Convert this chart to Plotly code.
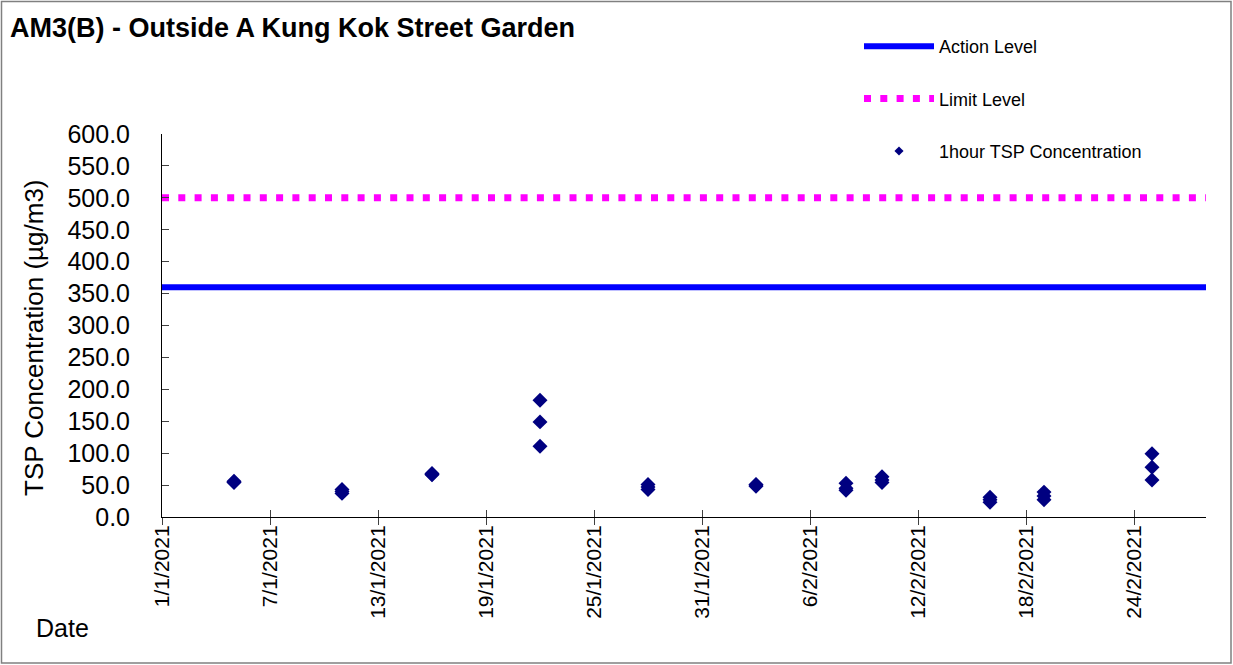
import plotly.graph_objects as go

# ---- data ----
sample_dates = [
    "2021-01-05", "2021-01-05", "2021-01-05",
    "2021-01-11", "2021-01-11", "2021-01-11",
    "2021-01-16", "2021-01-16", "2021-01-16",
    "2021-01-22", "2021-01-22", "2021-01-22",
    "2021-01-28", "2021-01-28", "2021-01-28",
    "2021-02-03", "2021-02-03", "2021-02-03",
    "2021-02-08", "2021-02-08", "2021-02-08",
    "2021-02-10", "2021-02-10", "2021-02-10",
    "2021-02-16", "2021-02-16", "2021-02-16",
    "2021-02-19", "2021-02-19", "2021-02-19",
    "2021-02-25", "2021-02-25", "2021-02-25",
]
tsp_values = [
    56, 55, 54,
    43, 40, 37,
    68, 67, 66,
    183, 149, 111,
    51, 47, 43,
    51, 50, 48,
    53, 45, 42,
    63, 58, 54,
    31, 27, 23,
    39, 33, 27,
    99, 78, 58,
]
period = ["2021-01-01", "2021-02-28"]
action_level = [360, 360]
limit_level = [500, 500]
tick_start = "2021-01-01"
tick_step_days = 6

# ---- geometry ----
W, H = 1233, 665
ML, MR, MT, MB = 162, 27, 134, 148
PW, PH = W - ML - MR, H - MT - MB


def px(xp):
    return (xp - ML) / PW


def py(yp):
    return (H - MB - yp) / PH


FONT = "Liberation Sans, Arial, sans-serif"
NAVY = "#000080"

fig = go.Figure()

fig.add_trace(go.Scatter(
    x=period, y=action_level, mode="lines", name="Action Level",
    line=dict(color="#0000FF", width=6), xaxis="x2", legendgroup="a",
))
fig.add_trace(go.Scatter(
    x=period, y=limit_level, mode="lines", name="Limit Level",
    line=dict(color="#FF00FF", width=7, dash="7px,9.3px"), legendgroup="b",
))
fig.add_trace(go.Scatter(
    x=sample_dates, y=tsp_values, mode="markers", name="1hour TSP Concentration",
    marker=dict(symbol="diamond", size=11.5, color=NAVY), showlegend=False,
))
fig.add_trace(go.Scatter(
    x=[None], y=[None], mode="markers", name="1hour TSP Concentration",
    marker=dict(symbol="diamond", size=7, color=NAVY), legendgroup="c",
))

xcommon = dict(
    type="date", range=period, tick0=tick_start, dtick=tick_step_days * 86400000,
    showgrid=False, zeroline=False,
)
fig.update_layout(
    width=W, height=H,
    margin=dict(l=ML, r=MR, t=MT, b=MB, autoexpand=False),
    paper_bgcolor="white", plot_bgcolor="white",
    font=dict(family=FONT, color="black"),
    title=dict(
        text="<b>AM3(B) - Outside A Kung Kok Street Garden</b>",
        font=dict(size=27, family=FONT, color="black"),
        xref="container", yref="container", x=10 / W, xanchor="left",
        y=1 - 28 / H, yanchor="middle",
    ),
    xaxis=dict(
        **xcommon, tickformat="%-d/%-m/%Y", tickangle=-90,
        ticks="outside", ticklen=7, tickcolor="#404040",
        showline=True, linecolor="black", linewidth=1,
        tickfont=dict(size=21, family=FONT, color="black"),
        ticklabelstandoff=-8,
    ),
    xaxis2=dict(
        **xcommon, overlaying="x", anchor="y", side="bottom",
        ticks="inside", ticklen=7, tickcolor="#404040",
        showticklabels=False, showline=False,
    ),
    yaxis=dict(
        range=[0, 600], dtick=50, tickformat=".1f",
        ticks="inside", ticklen=7, tickcolor="#404040",
        showline=True, linecolor="black", linewidth=1,
        showgrid=False, zeroline=False,
        tickfont=dict(size=25, family=FONT, color="black"),
        ticklabelstandoff=26,
    ),
    legend=dict(
        x=px(859), y=py(28), xanchor="left", yanchor="top",
        font=dict(size=18, family=FONT, color="black"),
        itemwidth=70, tracegroupgap=26, bgcolor="rgba(0,0,0,0)",
    ),
    showlegend=True,
)

fig.add_annotation(
    text="TSP Concentration (µg/m3)", textangle=-90,
    xref="paper", yref="paper", x=px(34), y=py(338),
    xanchor="center", yanchor="middle",
    showarrow=False, font=dict(size=26, family=FONT, color="black"),
)
fig.add_annotation(
    text="Date", xref="paper", yref="paper", x=px(62), y=py(628),
    xanchor="center", yanchor="middle",
    showarrow=False, font=dict(size=25, family=FONT, color="black"),
)
fig.add_shape(
    type="rect", xref="paper", yref="paper",
    x0=px(1.5), x1=px(1231), y0=py(663), y1=py(1.5),
    line=dict(color="#808080", width=1.5), fillcolor="rgba(0,0,0,0)", layer="below",
)

fig.write_html(
    "out.html",
    config={"displayModeBar": False},
    post_script="document.body.style.margin='0';document.body.style.overflow='hidden';",
)
